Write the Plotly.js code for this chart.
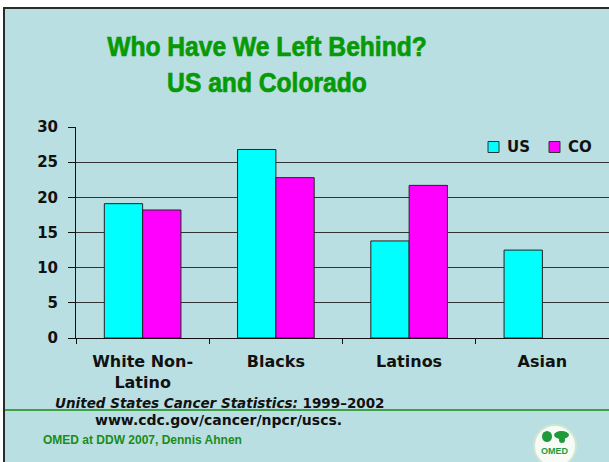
<!DOCTYPE html>
<html>
<head>
<meta charset="utf-8">
<script src="https://cdn.plot.ly/plotly-3.0.1.min.js"></script>
<style>
  html, body { margin: 0; padding: 0; background: #ffffff; width: 609px; height: 462px; overflow: hidden; }
  #frame { position: absolute; left: 3px; top: 7px; width: 606px; height: 455px;
           border-left: 2px solid #2b2b2b; border-top: 2px solid #2b2b2b; background: #BADFE2; }
  #chart { position: absolute; left: 0; top: 0; width: 604px; height: 453px; }
</style>
</head>
<body>
<div id="frame"><div id="chart"></div></div>
<script>
// ---- data ----
const categories = ["White Non-<br>Latino", "Blacks", "Latinos", "Asian"];
const seriesNames = ["US", "CO"];
const usValues = [19.1, 26.8, 13.8, 12.5];
const coValues = [18.2, 22.8, 21.7, null];
const yTickValues = [0, 5, 10, 15, 20, 25, 30];
const titleLines = ["Who Have We Left Behind?", "US and Colorado"];
const sourceText = "<b><i>United States Cancer Statistics:</i> 1999\u20132002</b>";
const urlText = "<b>www.cdc.gov/cancer/npcr/uscs.</b>";
const creditText = "<b>OMED at DDW 2007, Dennis Ahnen</b>";
const logoText = "<b>OMED</b>";

// ---- layout helpers (page pixel -> paper) ----
const OX = 5, OY = 9;               // chart div offset in page
const PL = 76, PR = 609, PT = 127, PB = 338;  // plot area in page px
const px = x => (x - PL) / (PR - PL);
const py = y => (PB - y) / (PB - PT);

const colors = ["#00FFFF", "#FF00FF"];
const lineCol = "#222222";
const green = "#079A07";

const traces = [
  { type: "bar", name: seriesNames[0], x: categories, y: usValues,
    marker: { color: colors[0], line: { color: lineCol, width: 1 } }, hoverinfo: "skip" },
  { type: "bar", name: seriesNames[1], x: categories, y: coValues,
    marker: { color: colors[1], line: { color: lineCol, width: 1 } }, hoverinfo: "skip" }
];

const shapes = [
  // green separator line
  { type: "line", xref: "paper", yref: "paper", x0: px(5), x1: px(609), y0: py(410), y1: py(410),
    line: { color: "#3FA045", width: 2 } },
  // legend swatches
  { type: "rect", xref: "paper", yref: "paper", x0: px(488), x1: px(499), y0: py(152.5), y1: py(141.5),
    fillcolor: colors[0], line: { color: "#333", width: 1 } },
  { type: "rect", xref: "paper", yref: "paper", x0: px(549), x1: px(560), y0: py(152.5), y1: py(141.5),
    fillcolor: colors[1], line: { color: "#333", width: 1 } },
  // logo circle
  { type: "circle", xref: "paper", yref: "paper", x0: px(534), x1: px(576), y0: py(467), y1: py(425),
    fillcolor: "#F6FBF6", line: { color: "#CFE6D2", width: 2 } },
  { type: "circle", xref: "paper", yref: "paper", x0: px(542), x1: px(552), y0: py(442), y1: py(431),
    fillcolor: "#1E9A3A", line: { width: 0 } },
  { type: "circle", xref: "paper", yref: "paper", x0: px(554), x1: px(569), y0: py(439), y1: py(431),
    fillcolor: "#1E9A3A", line: { width: 0 } },
  { type: "circle", xref: "paper", yref: "paper", x0: px(559), x1: px(565), y0: py(443), y1: py(437),
    fillcolor: "#1E9A3A", line: { width: 0 } }
];

const annotations = [
  { xref: "paper", yref: "paper", x: px(505), y: py(147), xanchor: "left", yanchor: "middle",
    text: "<b>" + seriesNames[0] + "</b>", showarrow: false,
    font: { family: "DejaVu Sans", size: 15, color: "#111" } },
  { xref: "paper", yref: "paper", x: px(566), y: py(147), xanchor: "left", yanchor: "middle",
    text: "<b>" + seriesNames[1] + "</b>", showarrow: false,
    font: { family: "DejaVu Sans", size: 15, color: "#111" } },
  { xref: "paper", yref: "paper", x: px(53), y: py(403), xanchor: "left", yanchor: "middle",
    text: sourceText, showarrow: false,
    font: { family: "DejaVu Sans", size: 13.5, color: "#111" } },
  { xref: "paper", yref: "paper", x: px(93), y: py(420), xanchor: "left", yanchor: "middle",
    text: urlText, showarrow: false,
    font: { family: "DejaVu Sans", size: 14, color: "#111" } },
  { xref: "paper", yref: "paper", x: px(41), y: py(440), xanchor: "left", yanchor: "middle",
    text: creditText, showarrow: false,
    font: { family: "Liberation Sans, Arial, sans-serif", size: 12, color: "#1A8C1A" } },
  { xref: "paper", yref: "paper", x: px(555), y: py(451), xanchor: "center", yanchor: "middle",
    text: logoText, showarrow: false,
    font: { family: "Liberation Sans, sans-serif", size: 9, color: "#1E9A3A" } }
];

const titleX = 267;
const layout = {
  width: 604, height: 453,
  margin: { l: PL - OX, r: 0, t: PT - OY, b: 453 - (PB - OY), pad: 0 },
  paper_bgcolor: "rgba(0,0,0,0)",
  plot_bgcolor: "rgba(0,0,0,0)",
  showlegend: false,
  barmode: "group",
  bargap: 0.425,
  bargroupgap: 0,
  title: {
    text: "<b>" + titleLines.join("<br>") + "</b>",
    xref: "paper", x: px(titleX), xanchor: "center",
    yref: "container", y: 1 - (56 - OY) / 453, yanchor: "middle",
    font: { family: "Liberation Sans, Arial, sans-serif", size: 28, color: green }
  },
  xaxis: {
    type: "category",
    showline: true, linecolor: "#111", linewidth: 1,
    ticks: "outside", tickson: "boundaries", ticklen: 5, tickcolor: "#111",
    showgrid: false,
    ticklabelstandoff: 9,
    tickfont: { family: "DejaVu Sans", size: 16, color: "#111", weight: "bold" },
    fixedrange: true
  },
  yaxis: {
    range: [0, 30],
    tickvals: yTickValues,
    ticktext: yTickValues.map(String),
    showline: true, linecolor: "#111", linewidth: 1,
    ticks: "outside", ticklen: 7, tickcolor: "#111",
    showgrid: true, gridcolor: "#333", gridwidth: 1,
    zeroline: false,
    ticklabelstandoff: 7,
    tickfont: { family: "DejaVu Sans", size: 15, color: "#111", weight: "bold" },
    fixedrange: true
  },
  shapes: shapes,
  annotations: annotations
};

Plotly.newPlot("chart", traces, layout, { displayModeBar: false, staticPlot: true }).then(gd => {
  // condense the title horizontally, as in the original slide
  const t = gd.querySelector("text.gtitle");
  if (t) {
    const s = 0.88;
    const cx = parseFloat(t.getAttribute("x"));
    const prev = t.getAttribute("transform") || "";
    t.setAttribute("transform", prev + " translate(" + (cx * (1 - s)) + ",0) scale(" + s + ",1)");
    t.style.stroke = green;
    t.style.strokeWidth = "0.7px";
  }
});
</script>
</body>
</html>
